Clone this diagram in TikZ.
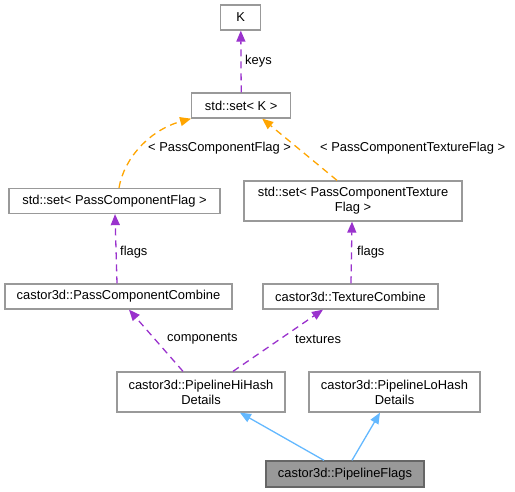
\documentclass[tikz,border=0pt]{standalone}
\usepackage{fontspec}
\setmainfont{Liberation Sans}
\usetikzlibrary{arrows.meta}
\definecolor{edgepurple}{HTML}{9A32CD}
\definecolor{edgeorange}{HTML}{FFA500}
\definecolor{edgeblue}{HTML}{63B8FF}
\definecolor{boxborder}{HTML}{999999}
\definecolor{boxdark}{HTML}{666666}
\begin{document}
\begin{tikzpicture}[x=1pt,y=-1pt,
  font=\fontsize{12.9}{14.8}\selectfont,
  box/.style={draw=boxborder, line width=1.3pt, fill=white, inner sep=0pt, align=center, minimum height=25pt},
  hibox/.style={box, draw=boxdark, fill=boxborder},
  lbl/.style={anchor=west, inner sep=0pt},
  tip/.style={-{Triangle[length=11pt,width=9pt]}},
  purp/.style={tip, draw=edgepurple, dash pattern=on 7pt off 5pt, line width=1.3pt},
  oran/.style={tip, draw=edgeorange, dash pattern=on 7pt off 5pt, line width=1.3pt},
  blu/.style={tip, draw=edgeblue, line width=1.3pt}]
\useasboundingbox (0,0) rectangle (515,492);
\node[box, minimum width=40pt] (k) at (240.8,17.5) {K};
\node[box, minimum width=99pt] (setk) at (241.2,105.5) {std::set< K >};
\node[box, minimum width=211pt] (setpcf) at (114.5,201) {std::set< PassComponentFlag >};
\node[box, minimum width=218pt, minimum height=40pt] (setpctf) at (353,201) {std::set< PassComponentTexture\\Flag >};
\node[box, minimum width=227pt] (pcc) at (118.5,296.5) {castor3d::PassComponentCombine};
\node[box, minimum width=175pt] (tc) at (350.5,296.5) {castor3d::TextureCombine};
\node[box, minimum width=168pt, minimum height=40pt] (hi) at (201,392) {castor3d::PipelineHiHash\\Details};
\node[box, minimum width=171pt, minimum height=40pt] (lo) at (394.5,392) {castor3d::PipelineLoHash\\Details};
\node[hibox, minimum width=158pt, minimum height=26pt] (pf) at (345,474) {castor3d::PipelineFlags};

\draw[purp] (setk.north) -- (k.south);
\node[lbl] (lkeys) at (245,61) {keys};

\draw[oran] ([xshift=4.5pt]setpcf.north) .. controls (124,158) and (150,130) .. (setk.south west);
\node[lbl] (lpcf) at (148,148) {< PassComponentFlag >};
\draw[oran] ([xshift=-16pt]setpctf.north) -- ([xshift=21pt]setk.south);
\node[lbl] (lpctf) at (320,148) {< PassComponentTextureFlag >};

\draw[purp] ([xshift=-1.5pt]pcc.north) -- ([xshift=0.5pt]setpcf.south);
\node[lbl] (lflags1) at (120,252) {flags};
\draw[purp] ([xshift=0.5pt]tc.north) -- ([xshift=-1pt]setpctf.south);
\node[lbl] (lflags2) at (357,252) {flags};

\draw[purp] ([xshift=-18pt]hi.north) -- ([xshift=10.5pt]pcc.south);
\node[lbl] (lcomp) at (167,339) {components};
\draw[purp] ([xshift=32pt]hi.north) -- ([xshift=-27.5pt]tc.south);
\node[lbl] (ltex) at (295,339) {textures};

\draw[blu] ([xshift=-21pt]pf.north) -- ([xshift=39pt]hi.south);
\draw[blu] ([xshift=7pt]pf.north) -- ([xshift=-14.5pt]lo.south);
\end{tikzpicture}
\end{document}
